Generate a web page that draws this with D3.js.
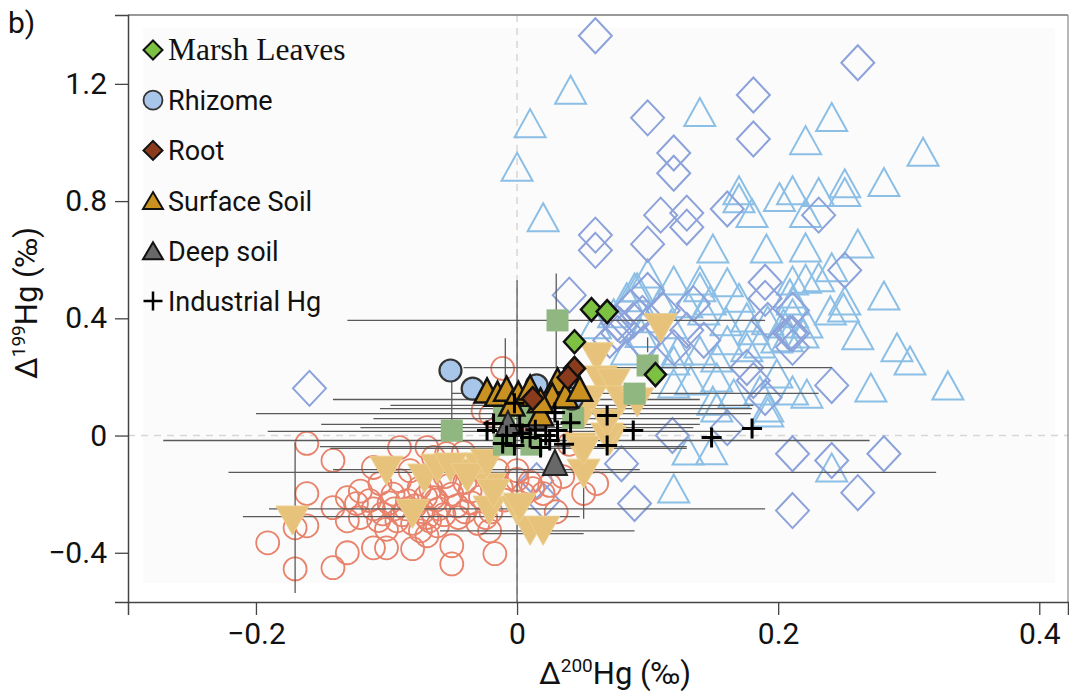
<!DOCTYPE html>
<html>
<head>
<meta charset="utf-8">
<script src="https://cdn.jsdelivr.net/npm/d3@7"></script>
<style>
  html, body { margin: 0; padding: 0; background: #fff; }
  svg { display: block; }
</style>
</head>
<body>
<svg id="chart" width="1069" height="694"></svg>
<script>
// ---- data (Δ200Hg, Δ199Hg) ----
const litDiamonds = [
  [0.060,1.364],[0.261,1.272],[0.181,1.162],[0.100,1.084],[0.181,1.012],[0.120,0.964],[0.120,0.895],
  [0.110,0.752],[0.130,0.759],[0.130,0.711],[0.161,0.773],[0.231,0.752],[0.060,0.684],[0.060,0.632],
  [0.100,0.653],[0.251,0.564],[0.040,0.479],[0.190,0.523],[0.190,0.468],[0.100,0.495],[0.087,0.437],
  [0.112,0.427],[0.079,0.376],[0.130,0.359],[0.143,0.325],[0.176,0.232],[0.211,0.301],[0.071,0.325],
  [0.096,0.417],[0.211,0.427],[0.211,0.348],[0.241,0.171],[0.211,-0.062],[0.241,-0.085],[0.281,-0.062],
  [0.261,-0.195],[0.211,-0.256],[0.090,-0.232],[0.080,-0.096],[0.161,0.027],[0.119,0.000],[0.181,0.188],
  [0.190,0.130],[-0.159,0.161],[0.020,-0.222],[0.015,-0.154],[0.077,0.383],[0.097,0.315],[0.089,0.393],
  [0.077,0.349],[0.120,0.300],[0.135,0.450],[0.192,0.393],[0.209,0.349]
];
const litTriangles = [
  [0.041,1.180],[0.010,1.066],[0.000,0.917],[0.140,1.104],[0.241,1.087],[0.221,1.008],[0.311,0.968],
  [0.020,0.745],[0.170,0.837],[0.170,0.810],[0.201,0.814],[0.211,0.837],[0.231,0.831],[0.251,0.861],
  [0.251,0.831],[0.281,0.865],[0.180,0.759],[0.221,0.759],[0.150,0.638],[0.191,0.638],[0.221,0.642],
  [0.261,0.655],[0.281,0.478],[0.100,0.553],[0.120,0.529],[0.090,0.505],[0.140,0.529],[0.161,0.523],
  [0.211,0.529],[0.221,0.535],[0.231,0.540],[0.241,0.574],[0.251,0.461],[0.250,0.437],[0.240,0.427],
  [0.261,0.342],[0.291,0.301],[0.301,0.256],[0.330,0.171],[0.271,0.164],[0.222,0.143],[0.211,0.154],
  [0.219,0.348],[0.211,0.461],[0.207,0.335],[0.241,-0.109],[0.120,-0.181],[0.131,-0.051],[0.192,0.096],
  [0.181,0.359],[0.150,0.119],[0.176,0.301],[0.153,0.266],[0.199,0.331],[0.222,0.382],[0.204,0.382],
  [0.143,0.427],[0.123,0.290],[0.133,0.188],[0.140,0.506],[0.092,0.506],[0.084,0.472],[0.110,0.461],
  [0.130,0.451],[0.148,0.461],[0.176,0.403],[0.192,0.393],[0.209,0.485],[0.211,0.417],[0.074,0.417],
  [0.161,0.325],[0.186,0.314],[0.140,0.290],[0.120,0.256],[0.153,0.198],[0.199,0.212],[0.186,0.154],
  [0.166,0.143],[0.120,0.178],[0.149,-0.050],[0.192,0.079],[0.153,0.096],[0.084,0.290],[0.110,0.280],
  [0.100,0.400],[0.118,0.380],[0.160,0.390],[0.170,0.470],[0.060,0.380],[0.095,0.350]
];
const litCircles = [
  [-0.161,-0.027],[-0.141,-0.085],[-0.161,-0.198],[-0.191,-0.366],[-0.170,-0.455],[-0.161,-0.308],
  [-0.170,-0.315],[-0.141,-0.451],[-0.130,-0.400],[-0.130,-0.212],[-0.141,-0.246],[-0.130,-0.291],
  [-0.110,-0.383],[-0.100,-0.383],[-0.080,-0.386],[-0.110,-0.109],[-0.090,-0.041],[-0.069,-0.041],
  [-0.123,-0.232],[-0.120,-0.280],[-0.113,-0.222],[-0.103,-0.267],[-0.092,-0.291],[-0.084,-0.222],
  [-0.074,-0.325],[-0.067,-0.291],[-0.064,-0.212],[-0.105,-0.164],[-0.090,-0.154],[-0.082,-0.120],
  [-0.064,-0.075],[-0.069,-0.280],[-0.069,-0.342],[-0.050,-0.438],[-0.050,-0.376],[-0.017,-0.403],
  [-0.021,-0.325],[-0.061,-0.308],[-0.054,-0.062],[-0.041,-0.058],[-0.011,0.229],[0.061,-0.164],
  [0.051,-0.198],[0.012,-0.181],[0.020,-0.198],[-0.095,-0.200],[-0.085,-0.250],[-0.075,-0.180],
  [-0.060,-0.250],[-0.050,-0.200],[-0.045,-0.280],[-0.035,-0.230],[-0.030,-0.300],[-0.020,-0.260],
  [-0.010,-0.220],[-0.040,-0.160],[-0.055,-0.140],[-0.070,-0.210],[-0.110,-0.250],[-0.120,-0.190],
  [-0.080,-0.300],[-0.100,-0.320],[0.000,-0.150],[-0.015,-0.120],[0.030,-0.260],[0.035,-0.140],
  [-0.026,0.085],[-0.020,0.070],[0.000,0.050],[0.040,-0.030],[0.000,-0.120],[0.010,-0.160],
  [-0.098,-0.230],[-0.088,-0.270],[-0.078,-0.240],[-0.072,-0.260],[-0.062,-0.220],[-0.056,-0.270],
  [-0.046,-0.240],[-0.040,-0.260],[-0.028,-0.210],[-0.024,-0.280],[-0.106,-0.290],[-0.094,-0.250],
  [-0.066,-0.180],[-0.052,-0.170],[-0.036,-0.190],[-0.012,-0.180],[0.005,-0.200],[0.025,-0.170]
];
const litInvTriangles = [
  [-0.172,-0.290],[-0.100,-0.120],[-0.080,-0.267],[-0.071,-0.147],[0.110,0.366],[0.061,0.267],
  [0.064,0.188],[0.074,0.178],[0.080,0.120],[0.056,0.120],[0.051,0.075],[0.048,-0.041],[0.071,-0.017],
  [0.051,-0.130],[-0.061,-0.113],[-0.040,-0.130],[-0.028,-0.109],[-0.021,-0.178],[-0.021,-0.256],
  [0.000,-0.256],[0.010,-0.325],[0.020,-0.325],[-0.051,-0.109],[-0.038,-0.144],[-0.023,-0.096],
  [-0.018,-0.198],[0.002,-0.246],[0.051,-0.051],[0.069,-0.007],[0.092,0.113],[0.069,0.041]
];
const litSquares = [
  [-0.050,0.017],[0.031,0.393],[0.100,0.239],[0.090,0.143],[-0.010,0.072],[0.011,0.072],
  [-0.010,-0.031],[0.011,-0.031],[0.043,0.060]
];
const marshLeaves = [[0.057,0.430],[0.069,0.423],[0.044,0.320],[0.106,0.208]];
const rhizome = [[-0.051,0.222],[-0.034,0.160],[0.015,0.171],[0.042,0.126]];
const root = [[0.044,0.229],[0.039,0.198],[0.012,0.126]];
const surfaceSoil = [
  [-0.023,0.154],[-0.015,0.143],[-0.008,0.160],[0.001,0.143],[0.010,0.164],[-0.004,0.109],
  [0.018,0.075],[0.031,0.188],[0.027,0.137],[0.037,0.137],[0.048,0.160],[0.018,0.120]
];
const deepSoil = [[0.029,-0.092],[-0.007,0.041]];
const industrialHg = [
  [-0.023,0.017],[0.002,0.034],[0.010,-0.007],[-0.011,-0.027],[-0.002,-0.034],[0.018,-0.041],
  [0.025,-0.017],[0.029,0.079],[0.031,0.017],[0.041,0.044],[0.069,0.068],[0.069,-0.034],
  [0.089,0.017],[-0.018,0.041],[0.004,0.007],[0.149,-0.007],[0.180,0.024],[-0.002,0.110],
  [0.014,0.020],[0.022,0.000],[-0.008,0.000],[0.036,-0.030]
];
// horizontal error bars: [y, xLow, xHigh]
const xErrorBars = [
  [0.393,-0.130,0.190],[0.232,-0.041,0.241],[0.144,-0.050,0.231],[0.123,-0.141,0.140],
  [0.103,-0.097,0.181],[0.092,-0.105,0.180],[0.075,-0.200,0.179],[0.058,-0.110,0.140],
  [0.038,-0.150,0.140],[0.027,-0.120,0.135],[0.014,-0.191,0.171],[-0.017,-0.271,0.270],
  [-0.038,-0.151,0.130],[-0.044,-0.143,0.130],[-0.116,-0.141,0.094],[-0.126,-0.221,0.321],
  [-0.250,-0.190,0.190],[-0.277,-0.210,0.048],[-0.325,-0.059,0.090],[-0.335,-0.028,0.051]
];
// vertical error bars: [x, yHigh, yLow]
const yErrorBars = [
  [-0.170,-0.024,-0.537],[0.000,0.530,-0.570],[0.030,0.553,0.232],[-0.009,0.332,-0.041],
  [0.051,-0.120,-0.284],[-0.050,0.198,0.027],[0.100,0.335,0.284]
];
const xTicks = [-0.2, 0, 0.2, 0.4];
const yTicks = [-0.4, 0, 0.4, 0.8, 1.2];
const legendNames = ["Marsh Leaves", "Rhizome", "Root", "Surface Soil", "Deep soil", "Industrial Hg"];

// ---- layout ----
const svg = d3.select("#chart");
const plotLeft = 128, plotRight = 1068, plotTop = 15, plotBottom = 602;
const x = d3.scaleLinear().domain([-0.298, 0.422]).range([plotLeft, plotRight]);
const y = d3.scaleLinear().domain([-0.568, 1.435]).range([plotBottom, plotTop]);
const sans = "Roboto, 'Open Sans', sans-serif";

// faint plot panel
svg.append("rect").attr("x", 143).attr("y", 28).attr("width", 912).attr("height", 555)
  .attr("fill", "#fbfbfb");

// zero reference lines
svg.append("line").attr("x1", plotLeft).attr("x2", plotRight).attr("y1", y(0)).attr("y2", y(0))
  .attr("stroke", "#d6d6d6").attr("stroke-width", 1.5).attr("stroke-dasharray", "7,6");
svg.append("line").attr("x1", x(0)).attr("x2", x(0)).attr("y1", plotTop).attr("y2", plotBottom)
  .attr("stroke", "#d6d6d6").attr("stroke-width", 1.5).attr("stroke-dasharray", "7,6");

// shape paths
const diamond = (w, h) => `M0,${-h/2}L${w/2},0L0,${h/2}L${-w/2},0Z`;
const triUp = (w, h) => `M0,${-h/2}L${w/2},${h/2}L${-w/2},${h/2}Z`;
const triDown = (w, h) => `M0,${h/2}L${w/2},${-h/2}L${-w/2},${-h/2}Z`;
const square = (s) => `M${-s/2},${-s/2}h${s}v${s}h${-s}Z`;
const plus = (s) => `M${-s/2},0H${s/2}M0,${-s/2}V${s/2}`;

function drawPaths(data, d, fill, stroke, sw) {
  svg.append("g").selectAll("path").data(data).join("path")
    .attr("transform", p => `translate(${x(p[0])},${y(p[1])})`)
    .attr("d", d).attr("fill", fill).attr("stroke", stroke).attr("stroke-width", sw)
    .attr("stroke-linejoin", "miter");
}
function drawCircles(data, r, fill, stroke, sw) {
  svg.append("g").selectAll("circle").data(data).join("circle")
    .attr("cx", p => x(p[0])).attr("cy", p => y(p[1])).attr("r", r)
    .attr("fill", fill).attr("stroke", stroke).attr("stroke-width", sw);
}

// literature data (background)
drawPaths(litTriangles, triUp(31, 28), "none", "#8cbfe6", 2);
drawPaths(litDiamonds, diamond(33, 35), "none", "#8ca2da", 2);
drawCircles(litCircles, 11.5, "none", "#e8826b", 1.8);

// error bars
svg.append("g").selectAll("line").data(xErrorBars).join("line")
  .attr("x1", d => x(d[1])).attr("x2", d => x(d[2])).attr("y1", d => y(d[0])).attr("y2", d => y(d[0]))
  .attr("stroke", "#5a5a5a").attr("stroke-width", 1.3);
svg.append("g").selectAll("line").data(yErrorBars).join("line")
  .attr("x1", d => x(d[0])).attr("x2", d => x(d[0])).attr("y1", d => y(d[1])).attr("y2", d => y(d[2]))
  .attr("stroke", "#5a5a5a").attr("stroke-width", 1.3);

drawPaths(litInvTriangles, triDown(33, 29), "#e6c27a", "#edcf8e", 1);
drawPaths(litSquares, square(22), "#8fb77f", "none", 0);

// this study
drawCircles(rhizome, 11, "#a8c6ea", "#333", 2.2);
drawPaths(surfaceSoil, triUp(25, 24), "#c99220", "#111", 2.5);
drawPaths(root, diamond(21, 23), "#8a3b1c", "#111", 2.5);
drawPaths(marshLeaves, diamond(21, 23), "#7dc142", "#111", 2.5);
drawPaths(deepSoil, triUp(24, 25), "#686868", "#222", 2);
drawPaths(industrialHg, plus(20), "none", "#000", 3);

// axes frame
svg.append("line").attr("x1", plotLeft).attr("x2", plotRight).attr("y1", plotTop).attr("y2", plotTop)
  .attr("stroke", "#777").attr("stroke-width", 1.5);
svg.append("line").attr("x1", plotRight).attr("x2", plotRight).attr("y1", plotTop).attr("y2", plotBottom)
  .attr("stroke", "#888").attr("stroke-width", 1.2);

const fmt = d => d === 0 ? "0" : d3.format(".1f")(d).replace("-", "\u2212");
const xAxis = svg.append("g").attr("transform", `translate(0,${plotBottom})`)
  .call(d3.axisBottom(x).tickValues(xTicks).tickSize(13).tickPadding(8).tickFormat(fmt));
const yAxis = svg.append("g").attr("transform", `translate(${plotLeft},0)`)
  .call(d3.axisLeft(y).tickValues(yTicks).tickSize(13).tickPadding(8).tickFormat(fmt));
[xAxis, yAxis].forEach(a => {
  a.select(".domain").attr("stroke", "#444").attr("stroke-width", 1.5);
  a.selectAll(".tick line").attr("stroke", "#444").attr("stroke-width", 1.3);
  a.selectAll(".tick text").attr("fill", "#111").style("font-family", sans).style("font-size", "30px");
});

// axis titles
const xt = svg.append("text").attr("x", 615).attr("y", 684).attr("text-anchor", "middle")
  .style("font-family", sans).style("font-size", "31px").attr("fill", "#111");
xt.append("tspan").text("Δ");
xt.append("tspan").attr("dy", -12).style("font-size", "19px").text("200");
xt.append("tspan").attr("dy", 12).text("Hg (‰)");

const yt = svg.append("text").attr("transform", "translate(37,303) rotate(-90)")
  .attr("text-anchor", "middle").style("font-family", sans).style("font-size", "31px").attr("fill", "#111");
yt.append("tspan").text("Δ");
yt.append("tspan").attr("dy", -12).style("font-size", "19px").text("199");
yt.append("tspan").attr("dy", 12).text("Hg (‰)");

svg.append("text").attr("x", 8).attr("y", 33).text("b)")
  .style("font-family", sans).style("font-size", "30px").attr("fill", "#111");

// legend
const legendShapes = [
  g => g.append("path").attr("d", diamond(19, 19)).attr("fill", "#7dc142").attr("stroke", "#111").attr("stroke-width", 2),
  g => g.append("circle").attr("r", 9.5).attr("fill", "#a8c6ea").attr("stroke", "#333").attr("stroke-width", 1.8),
  g => g.append("path").attr("d", diamond(19, 19)).attr("fill", "#8a3b1c").attr("stroke", "#111").attr("stroke-width", 2),
  g => g.append("path").attr("d", triUp(20, 17)).attr("fill", "#c99220").attr("stroke", "#111").attr("stroke-width", 2),
  g => g.append("path").attr("d", triUp(20, 17)).attr("fill", "#686868").attr("stroke", "#111").attr("stroke-width", 2),
  g => g.append("path").attr("d", plus(19)).attr("stroke", "#000").attr("stroke-width", 2.5)
];
const legend = svg.append("g");
legendNames.forEach((name, i) => {
  const row = legend.append("g").attr("transform", `translate(0,${50 + i * 50.2})`);
  legendShapes[i](row.append("g").attr("transform", "translate(153,0)"));
  row.append("text").attr("x", 168).attr("y", 10).text(name)
    .style("font-family", i === 0 ? "'Liberation Serif', 'Times New Roman', serif" : sans)
    .style("font-size", i === 0 ? "31.5px" : "27px").attr("fill", "#111");
});
</script>
</body>
</html>
